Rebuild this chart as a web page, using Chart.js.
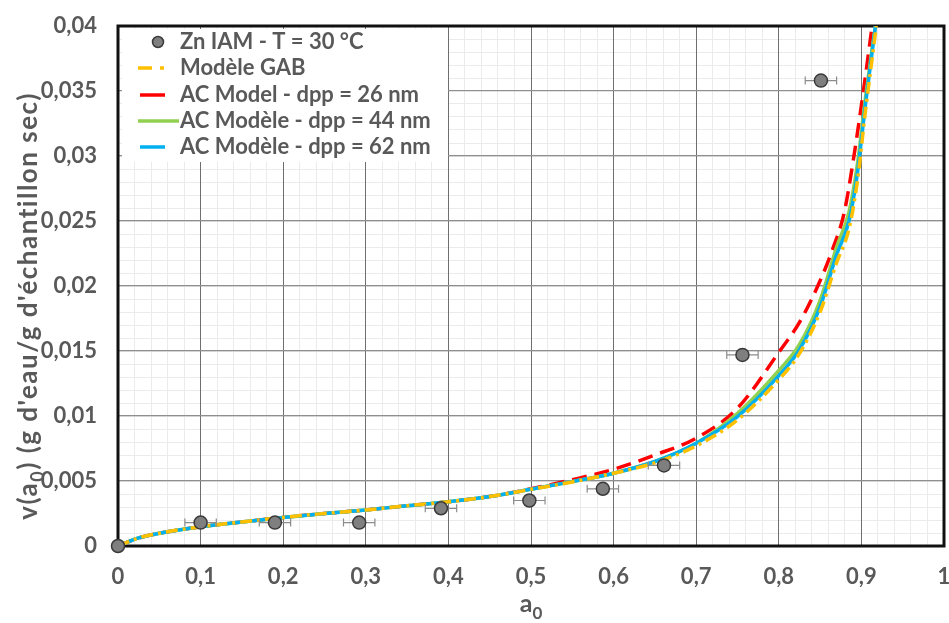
<!DOCTYPE html>
<html><head><meta charset="utf-8">
<script src="https://cdn.jsdelivr.net/npm/chart.js@4/dist/chart.umd.min.js"></script>
<style>html,body{margin:0;padding:0;background:#fff;overflow:hidden;}#wrap{width:949px;height:623px;overflow:hidden;}</style>
</head><body><div id="wrap"><canvas id="c" width="952" height="623"></canvas></div>
<script>
// ---- data ----
const seriesLabels = ['Zn IAM - T = 30 °C', 'Modèle GAB', 'AC Model - dpp = 26 nm', 'AC Modèle - dpp = 44 nm', 'AC Modèle - dpp = 62 nm'];

const pointA    = [0, 0.100, 0.190, 0.292, 0.391, 0.498, 0.587, 0.661, 0.756, 0.851];
const pointV    = [0, 0.0018, 0.0018, 0.0018, 0.0029, 0.0035, 0.0044, 0.0062, 0.0147, 0.0358];
const pointErrA = [0, 0.019, 0.019, 0.019, 0.019, 0.019, 0.019, 0.019, 0.019, 0.019];

const gabA = [0, 0.01, 0.025, 0.05, 0.1, 0.15, 0.2, 0.25, 0.3, 0.35, 0.4, 0.45, 0.5, 0.55, 0.6, 0.65, 0.7, 0.75, 0.8, 0.825, 0.85, 0.87, 0.885, 0.895, 0.905, 0.912, 0.918];
const gabV = [0, 0.00026, 0.00062, 0.00098, 0.00148, 0.00185, 0.0022, 0.0025, 0.00277, 0.0031, 0.0034, 0.0038, 0.00436, 0.00493, 0.0056, 0.0064, 0.0077, 0.0097, 0.0128, 0.0148, 0.0180, 0.0218, 0.0244, 0.0280, 0.0335, 0.0370, 0.0400];

const ac26A = [0, 0.01, 0.025, 0.05, 0.1, 0.15, 0.2, 0.25, 0.3, 0.35, 0.4, 0.45, 0.5, 0.55, 0.6, 0.65, 0.7, 0.75, 0.8, 0.825, 0.85, 0.865, 0.879, 0.890, 0.902, 0.913];
const ac26V = [0, 0.00026, 0.00062, 0.00098, 0.00148, 0.00185, 0.0022, 0.0025, 0.00277, 0.0031, 0.0034, 0.0038, 0.0044, 0.0051, 0.0059, 0.0070, 0.0083, 0.0106, 0.0149, 0.0172, 0.0204, 0.0228, 0.0256, 0.0296, 0.0348, 0.0400];

const ac44A = [0, 0.01, 0.025, 0.05, 0.1, 0.15, 0.2, 0.25, 0.3, 0.35, 0.4, 0.45, 0.5, 0.55, 0.6, 0.65, 0.7, 0.75, 0.8, 0.825, 0.85, 0.87, 0.885, 0.895, 0.905, 0.912, 0.917];
const ac44V = [0, 0.00026, 0.00062, 0.00098, 0.00148, 0.00185, 0.0022, 0.0025, 0.00277, 0.0031, 0.0034, 0.0038, 0.00436, 0.00495, 0.0056, 0.0065, 0.0079, 0.0102, 0.0135, 0.0155, 0.0189, 0.0230, 0.0257, 0.0293, 0.0345, 0.0378, 0.0400];

const ac62A = [0, 0.01, 0.025, 0.05, 0.1, 0.15, 0.2, 0.25, 0.3, 0.35, 0.4, 0.45, 0.5, 0.55, 0.6, 0.65, 0.7, 0.75, 0.8, 0.825, 0.85, 0.87, 0.885, 0.895, 0.905, 0.912, 0.917];
const ac62V = [0, 0.00026, 0.00062, 0.00098, 0.00148, 0.00185, 0.0022, 0.0025, 0.00277, 0.0031, 0.0034, 0.0038, 0.00436, 0.00495, 0.0056, 0.0065, 0.0079, 0.00995, 0.0131, 0.0151, 0.0184, 0.0224, 0.0250, 0.0286, 0.0340, 0.0375, 0.0400];

const xTickLabels = ['0', '0,1', '0,2', '0,3', '0,4', '0,5', '0,6', '0,7', '0,8', '0,9', '1'];
const yTickLabels = ['0', '0,005', '0,01', '0,015', '0,02', '0,025', '0,03', '0,035', '0,04'];
const xTitle = ['a', '0', ''];
const yTitle = ['v(a', '0', ') (g d\'eau/g d\'échantillon sec)'];

// ---- helpers ----
const pts = (a, v) => a.map((x, i) => ({x: x, y: v[i]}));
const FONT = 'Lato, "Open Sans", sans-serif';
const TXT = '#595959';

const lineDs = (label, a, v, color, dash, order) => ({
  label, data: pts(a, v), showLine: true, borderColor: color, backgroundColor: color,
  borderWidth: 3.5, borderDash: dash, pointRadius: 0, pointHoverRadius: 0,
  cubicInterpolationMode: 'monotone', order: order, fill: false
});

const datasets = [
  { label: seriesLabels[0], data: pts(pointA, pointV), pointRadius: 6.5, pointBackgroundColor: '#7f7f7f',
    pointBorderColor: '#3a3a3a', pointBorderWidth: 1.5, showLine: false, order: 0, clip: false },
  lineDs(seriesLabels[1], gabA, gabV, '#FFC000', [12, 5, 3, 5], 1),
  lineDs(seriesLabels[2], ac26A, ac26V, '#FF0000', [15, 8], 4),
  lineDs(seriesLabels[3], ac44A, ac44V, '#92D050', [], 3),
  lineDs(seriesLabels[4], ac62A, ac62V, '#00B0F0', [], 2)
];

function drawSubText(ctx, parts, x, y, size, align, spacing) {
  const big = 'bold ' + size + 'px ' + FONT;
  const small = 'bold ' + Math.round(size * 0.68) + 'px ' + FONT;
  try { ctx.letterSpacing = (spacing || 0) + 'px'; } catch (e) {}
  ctx.font = big; const w0 = ctx.measureText(parts[0]).width; const w2 = ctx.measureText(parts[2]).width;
  ctx.font = small; const w1 = ctx.measureText(parts[1]).width;
  const total = w0 + w1 + w2;
  let sx = align === 'center' ? x - total / 2 : x;
  ctx.textBaseline = 'alphabetic'; ctx.textAlign = 'left';
  ctx.font = big; ctx.fillText(parts[0], sx, y);
  ctx.font = small; ctx.fillText(parts[1], sx + w0, y + size * 0.28);
  ctx.font = big; ctx.fillText(parts[2], sx + w0 + w1, y);
  try { ctx.letterSpacing = '0px'; } catch (e) {}
}

const zeroPad = s => { s.paddingLeft = 0; s.paddingRight = 0; s.paddingTop = 0; s.paddingBottom = 0; };

const deco = {
  id: 'deco',
  beforeDraw(chart) {
    const ctx = chart.ctx; ctx.save(); ctx.fillStyle = '#fff'; ctx.fillRect(0, 0, chart.width, chart.height); ctx.restore();
  },
  beforeDatasetsDraw(chart) {
    const ctx = chart.ctx, ca = chart.chartArea;
    ctx.save();
    // frame
    ctx.strokeStyle = '#111'; ctx.lineWidth = 3;
    ctx.strokeRect(ca.left, ca.top, ca.right - ca.left, ca.bottom - ca.top);
    // legend
    ctx.fillStyle = '#fff'; ctx.fillRect(ca.left + 4, ca.top + 3, 326, 133);
    const rowY = [42, 68, 95, 121, 147];
    ctx.font = 'bold 22px ' + FONT; ctx.textBaseline = 'middle'; ctx.textAlign = 'left';
    datasets.forEach((d, i) => {
      const y = rowY[i];
      ctx.setLineDash([]);
      if (i === 0) {
        ctx.beginPath(); ctx.arc(158, y, 5.5, 0, Math.PI * 2);
        ctx.fillStyle = '#7f7f7f'; ctx.fill(); ctx.lineWidth = 1.5; ctx.strokeStyle = '#3a3a3a'; ctx.stroke();
      } else {
        ctx.strokeStyle = d.borderColor; ctx.lineWidth = 3.5; ctx.lineCap = 'butt';
        ctx.beginPath();
        if (i === 1) { ctx.moveTo(138, y); ctx.lineTo(152, y); ctx.moveTo(160, y); ctx.lineTo(164, y); }
        else if (i === 3) { ctx.moveTo(138, y); ctx.lineTo(179, y); }
        else { ctx.moveTo(140, y); ctx.lineTo(165, y); }
        ctx.stroke();
      }
      ctx.fillStyle = TXT; ctx.fillText(d.label, 180, y);
    });
    // axis titles
    ctx.fillStyle = TXT;
    drawSubText(ctx, xTitle, (ca.left + ca.right) / 2, 612, 25, 'center', 0);
    ctx.translate(37, 306); ctx.rotate(-Math.PI / 2);
    drawSubText(ctx, yTitle, 0, 0, 26, 'center', 1.5);
    ctx.restore();
  },
  beforeDatasetDraw(chart, args) {
    if (args.index !== 0) return;
    const ctx = chart.ctx, xs = chart.scales.x, ys = chart.scales.y;
    ctx.save(); ctx.strokeStyle = '#8c8c8c'; ctx.lineWidth = 1.2;
    pointA.forEach((a, i) => {
      const e = pointErrA[i]; if (!e) return;
      const y = ys.getPixelForValue(pointV[i]);
      const x1 = xs.getPixelForValue(a - e), x2 = xs.getPixelForValue(a + e);
      ctx.beginPath(); ctx.moveTo(x1, y); ctx.lineTo(x2, y);
      ctx.moveTo(x1, y - 4); ctx.lineTo(x1, y + 4); ctx.moveTo(x2, y - 4); ctx.lineTo(x2, y + 4); ctx.stroke();
    });
    ctx.restore();
  }
};

const tickFont = {family: FONT, size: 22, weight: 'bold'};

new Chart(document.getElementById('c'), {
  type: 'scatter',
  data: {datasets},
  options: {
    responsive: false, animation: false, devicePixelRatio: 1,
    layout: {padding: {top: 26, right: 0, left: 0, bottom: 0}},
    plugins: {legend: {display: false}, tooltip: {enabled: false}},
    scales: {
      xMinor: {type: 'linear', position: 'bottom', min: 0, max: 1, z: -1,
        ticks: {display: false, stepSize: 0.02}, grid: {color: '#ebebeb', lineWidth: 1, drawTicks: false},
        border: {display: false}, afterFit(s) { s.height = 0; zeroPad(s); }},
      yMinor: {type: 'linear', position: 'left', min: 0, max: 0.04, z: -1,
        ticks: {display: false, stepSize: 0.001}, grid: {color: '#ebebeb', lineWidth: 1, drawTicks: false},
        border: {display: false}, afterFit(s) { s.width = 0; zeroPad(s); }},
      x: {type: 'linear', position: 'bottom', min: 0, max: 1,
        ticks: {stepSize: 0.1, autoSkip: false, maxRotation: 0, padding: 18, color: TXT, font: tickFont,
          callback: (v, i) => xTickLabels[i]},
        grid: {color: '#6f6f6f', lineWidth: 1, drawTicks: false}, border: {display: false},
        afterFit(s) { s.height = 77; zeroPad(s); }},
      y: {type: 'linear', position: 'left', min: 0, max: 0.04,
        ticks: {stepSize: 0.005, autoSkip: false, padding: 21, color: TXT, font: tickFont,
          callback: (v, i) => yTickLabels[i]},
        grid: {color: '#8f8f8f', lineWidth: 1.3, drawTicks: false}, border: {display: false},
        afterFit(s) { s.width = 118; zeroPad(s); }}
    }
  },
  plugins: [deco]
});
</script></body></html>
